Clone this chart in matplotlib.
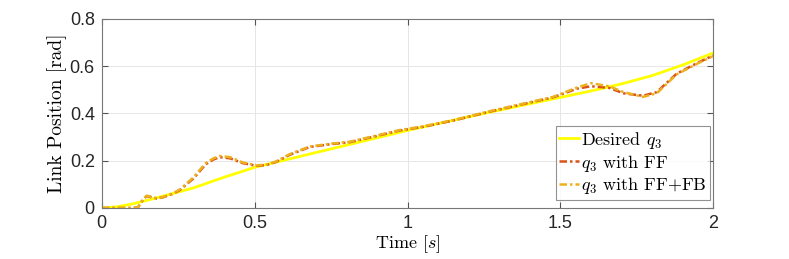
import matplotlib
matplotlib.use('Agg')
import matplotlib.pyplot as plt
import numpy as np

plt.rcParams['mathtext.fontset'] = 'cm'
plt.rcParams['font.family'] = ['Liberation Sans', 'DejaVu Sans']

# desired trajectory
t_des = [0, 0.05, 0.1, 0.15, 0.2, 0.3, 0.4, 0.5, 0.75, 1.0, 1.25, 1.5, 1.6, 1.7, 1.8, 1.9, 2.0]
q_des = [0, 0.005, 0.017, 0.033, 0.05, 0.085, 0.13, 0.172, 0.25, 0.328, 0.4, 0.468, 0.495,
         0.525, 0.56, 0.605, 0.656]

# measured with FF
t_ff = [0, 0.05, 0.1, 0.118, 0.135, 0.147, 0.165, 0.18, 0.2, 0.233, 0.255, 0.277, 0.3, 0.32,
        0.34, 0.365, 0.386, 0.42, 0.46, 0.507, 0.54, 0.57, 0.615, 0.68, 0.75, 0.81, 0.9,
        0.975, 1.05, 1.15, 1.27, 1.38, 1.476, 1.555, 1.6, 1.66, 1.707, 1.77, 1.815, 1.88,
        1.95, 2.0]
q_ff = [0, 0.0, 0.0, 0.002, 0.035, 0.05, 0.045, 0.04, 0.045, 0.06, 0.075, 0.1, 0.125, 0.155,
        0.185, 0.205, 0.215, 0.21, 0.19, 0.178, 0.182, 0.195, 0.225, 0.258, 0.27, 0.278, 0.305,
        0.328, 0.343, 0.37, 0.408, 0.44, 0.468, 0.505, 0.515, 0.508, 0.485, 0.475, 0.49, 0.568,
        0.615, 0.645]

# measured with FF+FB
t_fb = t_ff
q_fb = [0, 0.0, 0.0, 0.002, 0.038, 0.052, 0.046, 0.041, 0.046, 0.062, 0.078, 0.103, 0.13, 0.16,
        0.19, 0.21, 0.22, 0.215, 0.193, 0.18, 0.184, 0.197, 0.228, 0.26, 0.272, 0.28, 0.307,
        0.33, 0.345, 0.372, 0.41, 0.442, 0.47, 0.51, 0.528, 0.515, 0.49, 0.47, 0.485, 0.565,
        0.612, 0.643]

fig = plt.figure(figsize=(7.89, 2.59), dpi=100)
ax = fig.add_axes([0.129, 0.197, 0.775, 0.730])

dashdot = (0, (3, 1.2, 1, 1.2))
ax.plot(t_des, q_des, color='#FFFF00', lw=2, label=r'Desired $q_3$')
ax.plot(t_ff, q_ff, color='#D95319', lw=1.8, ls=dashdot, label=r'$q_3$ with FF')
ax.plot(t_fb, q_fb, color='#EDB120', lw=1.8, ls=dashdot, label=r'$q_3$ with FF+FB')

ax.set_xlim(0, 2)
ax.set_ylim(0, 0.8)
ax.set_xticks([0, 0.5, 1, 1.5, 2])
ax.set_xticklabels(['0', '0.5', '1', '1.5', '2'])
ax.set_yticks([0, 0.2, 0.4, 0.6, 0.8])
ax.set_yticklabels(['0', '0.2', '0.4', '0.6', '0.8'])
ax.grid(True, color='#e6e6e6', lw=0.7)
ax.tick_params(direction='in', top=True, right=True, labelsize=13, color='#555555',
               labelcolor='#262626', length=4, pad=5)
for s in ax.spines.values():
    s.set_color('#777777')
    s.set_linewidth(0.8)

serif = ['cmr10', 'DejaVu Serif']
ax.set_xlabel(r'Time [$s$]', fontsize=13, family=serif, labelpad=1)
ax.set_ylabel('Link Position [rad]', fontsize=14, family=serif, labelpad=2)

leg = ax.legend(loc='lower right', bbox_to_anchor=(0.995, 0.042), borderaxespad=0,
                prop={'family': serif, 'size': 13}, handlelength=1.1, handletextpad=0.1,
                borderpad=0.2, labelspacing=0.1, fancybox=False)
leg.get_frame().set_edgecolor('#777777')
leg.get_frame().set_linewidth(0.8)

fig.savefig('out.png', dpi=100)
